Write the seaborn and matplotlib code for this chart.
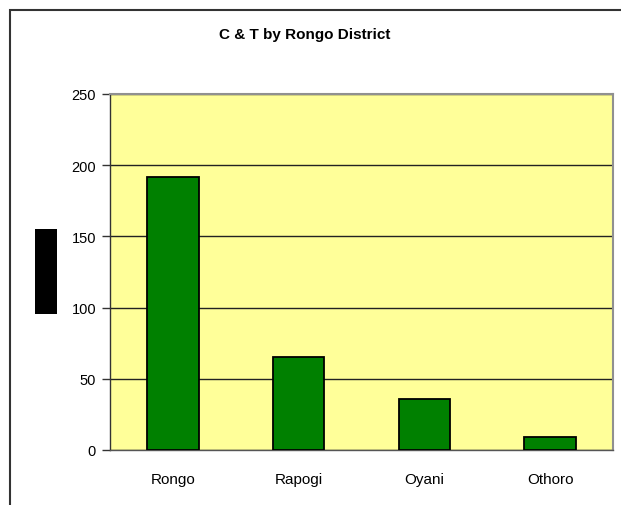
import pandas as pd
import matplotlib
matplotlib.use('Agg')
import matplotlib.pyplot as plt
import seaborn as sns
from matplotlib.patches import Rectangle

# Values
districts = ['Rongo', 'Rapogi', 'Oyani', 'Othoro']
counts = [192, 65, 36, 9]
y_ticks = [0, 50, 100, 150, 200, 250]

df = pd.DataFrame({'District': districts, 'Count': counts})

sns.set_theme(style='white')
plt.rcParams['font.family'] = ['Liberation Sans', 'DejaVu Sans']
plt.rcParams['text.color'] = 'black'

fig = plt.figure(figsize=(6.21, 5.06), dpi=100)
W, H = 621, 506
ax = fig.add_axes([110 / W, 1 - 451 / H, (613 - 110) / W, (451 - 95) / H])

sns.barplot(data=df, x='District', y='Count', ax=ax, color='#008000',
            saturation=1, width=0.41, edgecolor='black', linewidth=1.3, zorder=3)

ax.set_facecolor('#FFFF99')
ax.set_ylim(0, 250)
ax.set_xlim(-0.5, 3.5)
ax.set_yticks(y_ticks)
ax.set_yticklabels([str(v) for v in y_ticks], fontsize=10.5)
ax.yaxis.grid(True, color='#222222', linewidth=1)
ax.set_axisbelow(True)

# category labels centred, tick marks on the boundaries
ax.set_xticks(range(len(districts)))
ax.set_xticklabels(districts, fontsize=11)
ax.set_xticks([-0.5, 0.5, 1.5, 2.5, 3.5], minor=True)
ax.tick_params(axis='x', which='major', length=0, pad=16, labelcolor='black')
ax.tick_params(axis='x', which='minor', length=5, width=1, color='#555555', direction='out')
ax.tick_params(axis='y', length=6, width=1, color='#333333', direction='out', pad=4,
               left=True, labelcolor='black')
ax.set_xlabel('')
ax.set_ylabel('')

for side in ['top', 'right']:
    ax.spines[side].set_color('#909090')
    ax.spines[side].set_linewidth(1.5)
ax.spines['left'].set_color('#333333')
ax.spines['bottom'].set_color('#555555')
for side in ['left', 'bottom']:
    ax.spines[side].set_linewidth(1)

fig.text(305 / W, 1 - 35 / H, 'C & T by Rongo District', fontsize=11, fontweight='bold',
         ha='center', va='center', color='black')

# outer chart border (runs off the right and bottom edges)
fig.patches.append(Rectangle((10 / W, -0.1), 1.2, 1 - 11 / H + 0.1, transform=fig.transFigure,
                             fill=False, edgecolor='#333333', linewidth=1.5))
# blacked-out axis title
fig.patches.append(Rectangle((35 / W, 1 - 315 / H), 22 / W, 85 / H, transform=fig.transFigure,
                             facecolor='black', edgecolor='none'))

fig.savefig('out.png', dpi=100, facecolor='white')
